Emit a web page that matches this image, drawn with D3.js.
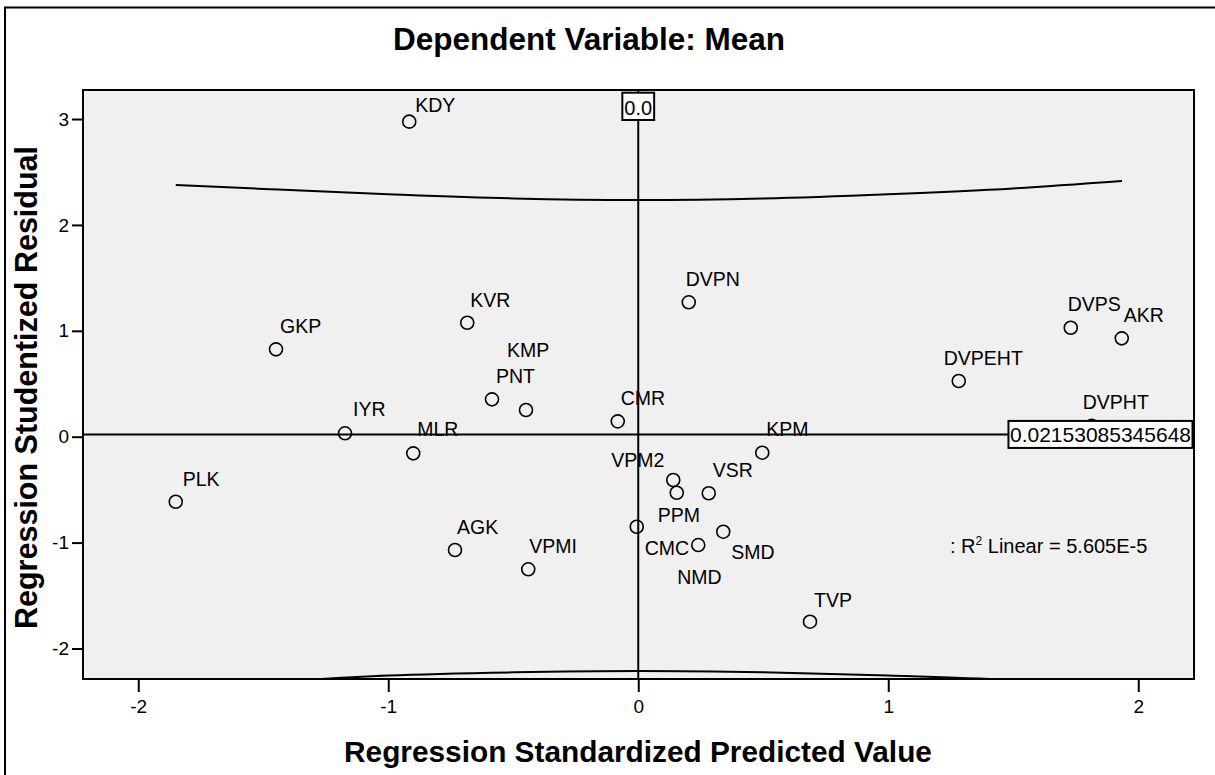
<!DOCTYPE html>
<html>
<head>
<meta charset="utf-8">
<script src="https://cdn.jsdelivr.net/npm/d3@7"></script>
<style>
  html, body { margin: 0; padding: 0; background: #ffffff; }
  svg { display: block; font-family: "Liberation Sans", Arial, sans-serif; }
</style>
</head>
<body>
<svg id="chart" width="1215" height="775"></svg>
<script>
// ---------------- data ----------------
const pointNames = ["KDY","GKP","KVR","PNT","KMP","IYR","MLR","PLK","AGK","VPMI","CMR","DVPN",
  "VPM2","PPM","VSR","KPM","CMC","NMD","SMD","TVP","DVPS","AKR","DVPEHT","DVPHT"];
const predictedValues = [-0.916,-1.449,-0.684,-0.585,-0.449,-1.173,-0.900,-1.850,-0.733,-0.440,-0.082,0.202,
  0.140,0.154,0.282,0.496,-0.006,0.240,0.340,0.687,1.730,1.934,1.282,1.814];
const studentizedResiduals = [2.975,0.825,1.076,0.353,0.252,0.032,-0.157,-0.614,-1.070,-1.252,0.145,1.269,
  -0.409,-0.529,-0.534,-0.151,-0.850,-1.023,-0.897,-1.747,1.029,0.929,0.526,0.103];

// 95% interval curves
const bandX     = [-1.85, -1.5, -1.0, -0.5, 0.0, 0.5, 1.0, 1.5, 1.935];
const upperBand = [2.377, 2.34, 2.29, 2.25, 2.235, 2.25, 2.29, 2.345, 2.415];
const lowerBand = [-2.37, -2.32, -2.255, -2.225, -2.213, -2.225, -2.255, -2.30, -2.38];

const xTickValues = [-2, -1, 0, 1, 2];
const yTickValues = [-2, -1, 0, 1, 2, 3];
const xDomain = [-2.221, 2.223];
const yDomain = [-2.288, 3.274];

const refXValue = 0.0;
const refXLabel = "0.0";
const fitIntercept = 0.02153085345648;
const fitLabel = "0.02153085345648";
const r2Label = "5.605E-5";

const titleText = "Dependent Variable: Mean";
const xAxisTitle = "Regression Standardized Predicted Value";
const yAxisTitle = "Regression Studentized Residual";

// ---------------- layout ----------------
const plot = { left: 83, top: 90, right: 1194, bottom: 679 };
const svg = d3.select("#chart");

// label offsets (layout only)
const defaultNudge = [4, -16];
const labelNudge = {
  KDY: [6, -10], KMP: [-19, -53], VPM2: [-62, -13], PPM: [-19, 29], CMC: [8, 28],
  NMD: [-21, 39], SMD: [8, 27], DVPN: [-3, -16], DVPS: [-3, -17], DVPEHT: [-15, -16],
  DVPHT: [-9, -17], IYR: [8, -17], PLK: [7, -16], CMR: [3, -16], AGK: [2, -16],
  VPMI: [1, -16], KVR: [3, -16], TVP: [4, -15], AKR: [2, -16], MLR: [4, -17], KPM: [4, -17]
};

const x = d3.scaleLinear().domain(xDomain).range([plot.left, plot.right]);
const y = d3.scaleLinear().domain(yDomain).range([plot.bottom, plot.top]);

// outer frame
svg.append("rect")
  .attr("x", 5).attr("y", 7.5).attr("width", 1400).attr("height", 900)
  .attr("fill", "#ffffff").attr("stroke", "#000").attr("stroke-width", 2);

// title
svg.append("text")
  .attr("x", 589).attr("y", 50)
  .attr("text-anchor", "middle")
  .attr("font-size", 31.5).attr("font-weight", "bold")
  .text(titleText);

// plot background
svg.append("rect")
  .attr("x", plot.left).attr("y", plot.top)
  .attr("width", plot.right - plot.left).attr("height", plot.bottom - plot.top)
  .attr("fill", "#f0f0f0");

svg.append("clipPath").attr("id", "plotClip")
  .append("rect")
  .attr("x", plot.left).attr("y", plot.top)
  .attr("width", plot.right - plot.left).attr("height", plot.bottom - plot.top);

const inner = svg.append("g").attr("clip-path", "url(#plotClip)");

// interval curves
const bandLine = d3.line().x(d => x(d[0])).y(d => y(d[1])).curve(d3.curveMonotoneX);
[upperBand, lowerBand].forEach(band => {
  inner.append("path")
    .datum(bandX.map((v, i) => [v, band[i]]))
    .attr("d", bandLine)
    .attr("fill", "none").attr("stroke", "#000").attr("stroke-width", 2);
});

// fit line (horizontal)
inner.append("line")
  .attr("x1", x(xDomain[0])).attr("x2", x(xDomain[1]))
  .attr("y1", y(fitIntercept)).attr("y2", y(fitIntercept))
  .attr("stroke", "#000").attr("stroke-width", 2);

// reference line at x = 0
inner.append("line")
  .attr("x1", x(refXValue)).attr("x2", x(refXValue))
  .attr("y1", y(yDomain[1])).attr("y2", y(yDomain[0]))
  .attr("stroke", "#000").attr("stroke-width", 2);

// points
const pts = pointNames.map((n, i) => ({ name: n, px: predictedValues[i], py: studentizedResiduals[i] }));
inner.selectAll("circle.pt").data(pts).enter().append("circle")
  .attr("class", "pt")
  .attr("cx", d => x(d.px)).attr("cy", d => y(d.py))
  .attr("r", 6.5)
  .attr("fill", "none").attr("stroke", "#000").attr("stroke-width", 1.6);

inner.selectAll("text.lbl").data(pts).enter().append("text")
  .attr("class", "lbl")
  .attr("x", d => x(d.px) + (labelNudge[d.name] || defaultNudge)[0])
  .attr("y", d => y(d.py) + (labelNudge[d.name] || defaultNudge)[1])
  .attr("font-size", 19.5)
  .text(d => d.name);

// R² annotation
const r2 = inner.append("text")
  .attr("x", 950).attr("y", 553)
  .attr("font-size", 20);
r2.append("tspan").text(": R");
r2.append("tspan").attr("font-size", 12).attr("dy", -8).text("2");
r2.append("tspan").attr("dy", 8).text(" Linear = " + r2Label);

// label box for reference line x = 0
const t0 = svg.append("text")
  .attr("x", x(refXValue)).attr("y", 115)
  .attr("text-anchor", "middle").attr("font-size", 20)
  .text(refXLabel);
const b0 = t0.node().getBBox();
svg.insert("rect", () => t0.node())
  .attr("x", b0.x - 2).attr("y", plot.top + 2.7)
  .attr("width", b0.width + 4).attr("height", 27.3)
  .attr("fill", "#fff").attr("stroke", "#000").attr("stroke-width", 2);

// label box for fit line
const t1 = svg.append("text")
  .attr("x", plot.right - 3).attr("y", y(fitIntercept) + 8)
  .attr("text-anchor", "end").attr("font-size", 21)
  .text(fitLabel);
const b1 = t1.node().getBBox();
svg.insert("rect", () => t1.node())
  .attr("x", b1.x - 1.5).attr("y", y(fitIntercept) - 13.5)
  .attr("width", b1.width + 3).attr("height", 27)
  .attr("fill", "#fff").attr("stroke", "#000").attr("stroke-width", 2);

// plot border
svg.append("rect")
  .attr("x", plot.left).attr("y", plot.top)
  .attr("width", plot.right - plot.left).attr("height", plot.bottom - plot.top)
  .attr("fill", "none").attr("stroke", "#000").attr("stroke-width", 2);

// axes
const plainFormat = d => String(d);
const xAxis = svg.append("g")
  .attr("transform", `translate(0,${plot.bottom})`)
  .call(d3.axisBottom(x).tickValues(xTickValues).tickSize(13).tickPadding(8).tickFormat(plainFormat));
const yAxis = svg.append("g")
  .attr("transform", `translate(${plot.left},0)`)
  .call(d3.axisLeft(y).tickValues(yTickValues).tickSize(11).tickPadding(3).tickFormat(plainFormat));
[xAxis, yAxis].forEach(g => {
  g.select(".domain").remove();
  g.selectAll(".tick line").attr("stroke", "#000").attr("stroke-width", 2);
  g.selectAll(".tick text").attr("fill", "#000").attr("font-size", 19)
    .attr("font-family", "Liberation Sans, Arial, sans-serif");
});

// axis titles
svg.append("text")
  .attr("x", 638).attr("y", 762)
  .attr("text-anchor", "middle")
  .attr("font-size", 29.8).attr("font-weight", "bold")
  .text(xAxisTitle);

svg.append("text")
  .attr("transform", "translate(37,387.5) rotate(-90)")
  .attr("text-anchor", "middle")
  .attr("font-size", 30.5).attr("font-weight", "bold")
  .text(yAxisTitle);
</script>
</body>
</html>
